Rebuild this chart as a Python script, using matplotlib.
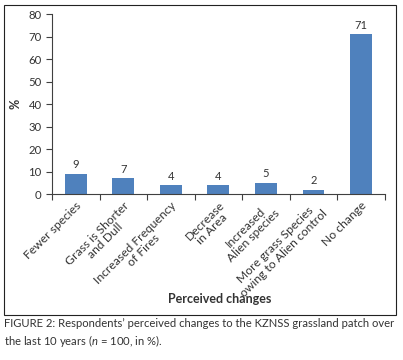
import numpy as np
import matplotlib.pyplot as plt
from matplotlib.patches import Rectangle

plt.rcParams['font.family'] = ['Lato', 'DejaVu Sans']
plt.rcParams['mathtext.fontset'] = 'custom'
plt.rcParams['mathtext.it'] = 'Lato:italic'
plt.rcParams['mathtext.rm'] = 'Lato'

categories = ['Fewer species', 'Grass is Shorter\nand Dull', 'Increased Frequency\nof Fires',
              'Decrease\nin Area', 'Increased\nAlien species',
              'More grass Species\nowing to Alien control', 'No change']
values = [9, 7, 4, 4, 5, 2, 71]
yticks = [0, 10, 20, 30, 40, 50, 60, 70, 80]

bar_color = '#4f81bd'
text_color = '#333333'

fig = plt.figure(figsize=(4.03, 3.6), dpi=100)
ax = fig.add_axes([0.129, 0.461, 0.826, 0.5])

x = np.arange(len(values))
ax.bar(x, values, width=0.46, color=bar_color)
for xi, v in zip(x, values):
    ax.text(xi, v + 1.5, str(v), ha='center', va='bottom', fontsize=8, color=text_color)

ax.set_xlim(-0.5, len(values) - 0.5)
ax.set_ylim(0, 80)
ax.set_yticks(yticks)
ax.set_xticks(np.arange(-0.5, len(values)), minor=False)
ax.set_xticklabels([])
ax.set_xticks(x, minor=True)
ax.set_xticklabels(categories, minor=True, rotation=45, ha='right', va='top',
                   rotation_mode='anchor', multialignment='center', fontsize=8.7,
                   color=text_color, linespacing=1.0)
ax.tick_params(axis='x', which='minor', length=0, pad=4)
ax.tick_params(axis='x', which='major', length=4, direction='out', color='#404040')
ax.tick_params(axis='y', length=4, direction='out', labelsize=8.2, labelcolor=text_color, color='#404040')
for s in ['top', 'right']:
    ax.spines[s].set_visible(False)
for s in ['left', 'bottom']:
    ax.spines[s].set_color('#404040')
    ax.spines[s].set_linewidth(0.8)

ax.set_ylabel('%', fontsize=9, fontweight='bold', color=text_color, labelpad=5)
fig.text(0.545, 0.17, 'Perceived changes', ha='center', va='center', fontsize=9,
         fontweight='bold', color=text_color)

fig.patches.append(Rectangle((0.01, 0.125), 0.972, 0.86, transform=fig.transFigure,
                             fill=False, edgecolor='#222222', linewidth=0.8))

fig.text(0.01, 0.118, "FIGURE 2: Respondents\u2019 perceived changes to the KZNSS grassland patch over\n"
         "the last 10 years ($n$ = 100, in %).", ha='left', va='top', fontsize=8.1,
         color=text_color, linespacing=1.4)

fig.savefig('out.png', dpi=100)
